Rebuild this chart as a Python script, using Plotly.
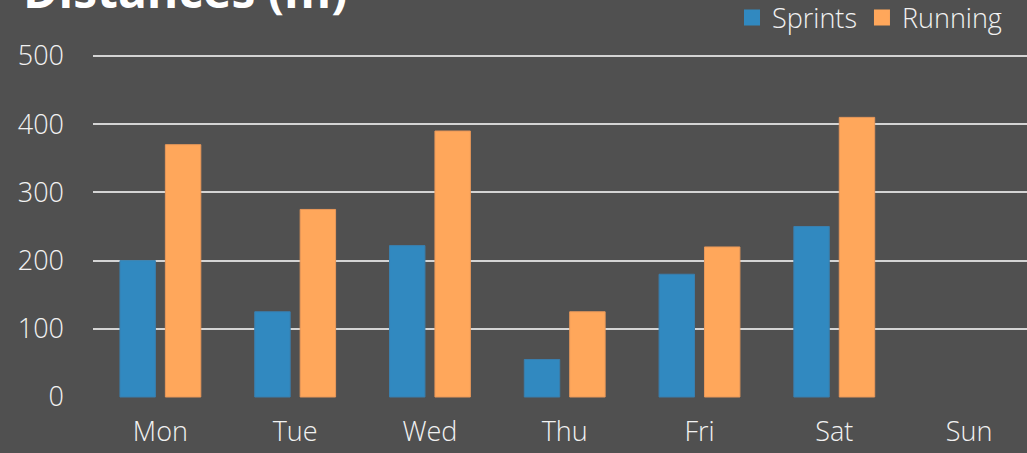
import plotly.graph_objects as go

days = ["Mon", "Tue", "Wed", "Thu", "Fri", "Sat", "Sun"]
sprints = [200, 125, 222, 55, 180, 250, None]
running = [370, 275, 390, 125, 220, 410, None]
y_ticks = [0, 100, 200, 300, 400, 500]

BG = "#505050"
BLUE = "#3189C0"
ORANGE = "#FFA75B"
TXT = "#F2F2F2"
GRID = "#D4D4D4"
FONT = "Open Sans"

fig = go.Figure()
fig.add_trace(go.Bar(name="Sprints", x=days, y=sprints, showlegend=False,
                     marker=dict(color=BLUE, line=dict(color="#3a7fae", width=1))))
fig.add_trace(go.Bar(name="Running", x=days, y=running, showlegend=False,
                     marker=dict(color=ORANGE, line=dict(color="#e8985a", width=1))))
# legend entries with larger square swatches
fig.add_trace(go.Scatter(name="Sprints", x=[None], y=[None], mode="markers",
                         marker=dict(symbol="square", size=18, color=BLUE)))
fig.add_trace(go.Scatter(name="Running", x=[None], y=[None], mode="markers",
                         marker=dict(symbol="square", size=18, color=ORANGE)))

fig.update_layout(
    width=1027, height=453,
    paper_bgcolor=BG, plot_bgcolor=BG,
    margin=dict(l=93, r=0, t=52, b=55, autoexpand=False),
    barmode="group", bargap=0.326, bargroupgap=0.22,
    font=dict(family=FONT, color=TXT, size=20),
    showlegend=True,
    legend=dict(orientation="h", xref="container", yref="container",
                x=1007 / 1027, xanchor="right", y=1 - 18 / 453, yanchor="middle",
                font=dict(size=27, color=TXT, family=FONT, weight=300), bgcolor="rgba(0,0,0,0)",
                traceorder="normal", itemwidth=30, itemsizing="trace"),
    xaxis=dict(range=[-0.5, 6.43], showgrid=False, showline=False, zeroline=False,
               ticks="", tickfont=dict(size=27, color=TXT, family=FONT, weight=300),
               ticklabelstandoff=15),
    yaxis=dict(range=[-1.47, 505.87], tickvals=y_ticks, showgrid=True, gridcolor=GRID, gridwidth=1.6,
               zeroline=False, showline=False, ticks="",
               tickfont=dict(size=27, color=TXT, family=FONT, weight=300),
               ticklabelstandoff=28),
    annotations=[dict(text="<b>Distances (m)</b>", xref="paper", yref="paper", x=-0.077, xanchor="left",
                      y=(398 + 10) / 346, yanchor="middle", showarrow=False,
                      font=dict(size=48, color="#FFFFFF", family=FONT))],
)

fig.write_html("out.html", config={"displayModeBar": False},
               post_script="document.body.style.margin='0px';")
